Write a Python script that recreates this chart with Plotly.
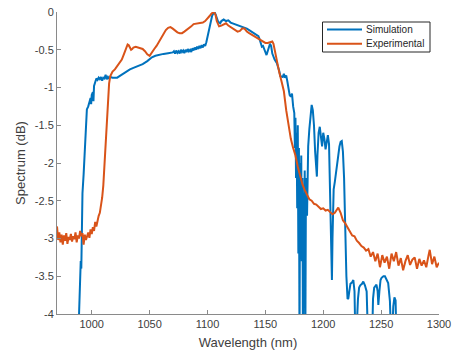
import plotly.graph_objects as go

# Simulated spectrum (wavelength in nm, level in dB)
sim_wl = [988, 989.5, 990, 990.5, 991, 991.5, 992, 993, 994, 995, 995.8, 997, 998, 999, 999.5,
          1000, 1001, 1001.5, 1002, 1003, 1004, 1005, 1006, 1007, 1008, 1009, 1010, 1011, 1012,
          1013, 1014, 1015, 1016, 1018, 1020, 1022, 1024, 1026, 1028, 1030, 1033, 1036, 1040,
          1044, 1048, 1050, 1052, 1055, 1058, 1062, 1066, 1070,
          1071, 1072, 1073, 1074, 1075, 1076, 1077, 1078, 1079, 1080, 1081, 1082, 1083, 1084,
          1085, 1086, 1087, 1088, 1089, 1090, 1091, 1092, 1093, 1094, 1095, 1096, 1097, 1098,
          1099, 1100, 1101, 1102, 1103, 1104, 1105, 1106, 1107, 1108, 1109, 1110, 1111, 1112,
          1114, 1116, 1118, 1120, 1122, 1124, 1126, 1128, 1130, 1132, 1134, 1136, 1138, 1140,
          1142, 1144, 1145, 1146, 1147, 1148, 1149, 1150, 1151, 1152, 1153, 1154, 1155, 1156,
          1158, 1160, 1162, 1163, 1165, 1166, 1167, 1168, 1169, 1170, 1171, 1172, 1173, 1174,
          1175, 1175.5, 1176, 1176.5, 1177, 1177.5, 1178, 1178.5, 1179, 1179.5, 1180, 1180.5,
          1181, 1181.5, 1182, 1182.5, 1183, 1183.5, 1184, 1184.5, 1185, 1185.5, 1186, 1186.5,
          1187, 1188, 1189, 1190, 1191, 1192, 1193, 1194, 1194.5, 1195, 1196, 1197, 1198, 1199,
          1200, 1201, 1202, 1203, 1204, 1205, 1206, 1207, 1207.5, 1208, 1209, 1210, 1211, 1212,
          1213, 1214, 1215, 1216, 1217, 1218, 1219, 1220, 1221, 1221.7, 1222.5, 1223.5, 1225,
          1226, 1227, 1228, 1230, 1231, 1232, 1233.5, 1234.6, 1236, 1237.5, 1239, 1242, 1243,
          1244, 1245, 1246, 1247, 1247.6, 1248.5, 1249.5, 1250.4, 1252, 1253.3, 1255, 1256.1,
          1257.6, 1259, 1260.5, 1261.5, 1262.5, 1263.5]
sim_db = [-4.5, -3.8, -3.5, -3.3, -3.4, -2.9, -2.4, -2.15, -1.8, -1.45, -1.29, -1.25, -1.18, -1.14, -1.22,
          -1.10, -1.06, -1.18, -0.98, -0.92, -0.88, -0.90, -0.87, -0.89, -0.86, -0.91, -0.87, -0.88, -0.83,
          -0.89, -0.86, -0.88, -0.86, -0.87, -0.875, -0.87, -0.85, -0.83, -0.80, -0.78, -0.76, -0.74, -0.72,
          -0.69, -0.65, -0.62, -0.60, -0.58, -0.566, -0.555, -0.545, -0.535,
          -0.52, -0.55, -0.51, -0.54, -0.52, -0.55, -0.50, -0.53, -0.51, -0.545, -0.50, -0.53, -0.49, -0.52,
          -0.50, -0.53, -0.48, -0.51, -0.47, -0.50, -0.46, -0.49, -0.45, -0.48, -0.44, -0.47, -0.43, -0.45,
          -0.40, -0.33, -0.25, -0.17, -0.10, -0.05, -0.02, 0.0, -0.03, -0.09, -0.12, -0.14, -0.15, -0.12,
          -0.10, -0.12, -0.11, -0.14, -0.15, -0.16, -0.18, -0.18, -0.20, -0.21, -0.22, -0.24, -0.26, -0.28,
          -0.30, -0.32, -0.36, -0.43, -0.46, -0.45, -0.50, -0.55, -0.57, -0.52, -0.47, -0.42, -0.45, -0.55,
          -0.63, -0.68, -0.78, -0.85, -0.86, -0.82, -0.87, -0.84, -0.92, -1.00, -1.10, -1.12, -1.08, -1.25,
          -1.34, -1.8, -1.4, -2.2, -1.6, -2.6, -1.5, -3.2, -1.8, -4.5, -2.0, -2.7,
          -1.9, -3.3, -2.2, -4.5, -2.4, -2.9, -2.1, -4.5, -2.5, -2.2, -2.7, -2.05,
          -1.78, -1.55, -1.35, -1.23, -1.30, -1.50, -1.85, -2.10, -2.18, -1.90, -1.60, -1.52, -1.65, -1.78,
          -1.60, -1.68, -1.82, -1.70, -1.63, -1.75, -2.4, -3.3, -3.55, -3.0, -2.35, -2.25, -2.15, -2.05,
          -1.90, -1.78, -1.72, -1.71, -1.85, -2.2, -2.9, -3.5, -3.8, -3.79, -3.7, -3.6, -3.58,
          -3.55, -3.7, -4.5, -3.8, -3.65, -3.62, -3.6, -3.57, -3.62, -3.70, -4.5, -4.5, -3.8,
          -3.65, -3.63, -3.61, -3.7, -3.88, -3.7, -3.55, -3.52, -3.5, -3.50, -3.55, -3.59,
          -3.83, -4.5, -3.9, -3.78, -3.82, -4.5]

# Measured spectrum
exp_wl = [970, 971, 972, 973, 974, 975, 976, 977, 978, 979, 980, 981, 982, 983, 984, 985, 986, 987,
          988, 989, 990, 991, 992, 993, 994, 995, 996, 997, 998, 999, 1000, 1001, 1002, 1003, 1004,
          1005, 1006, 1007, 1008, 1009, 1010, 1011, 1012, 1013, 1014, 1015, 1016, 1017, 1018, 1020,
          1022, 1024, 1026, 1028, 1030, 1031, 1032, 1033, 1034, 1035, 1036, 1038, 1040, 1042, 1044,
          1046, 1048, 1050, 1052, 1054, 1056, 1058, 1060, 1062, 1064, 1066, 1068, 1070, 1072, 1074,
          1076, 1078, 1080, 1082, 1084, 1086, 1088, 1090, 1092, 1094, 1096, 1098, 1100, 1102, 1103,
          1104, 1105, 1106, 1107, 1108, 1109, 1110, 1112, 1114, 1116, 1118, 1120, 1122, 1124, 1126,
          1128, 1130, 1132, 1134, 1136, 1138, 1140, 1142, 1144, 1146, 1148, 1150, 1152, 1154, 1156,
          1157, 1158, 1160, 1162, 1164, 1166, 1168, 1170, 1172, 1174, 1176, 1178, 1180, 1182, 1184,
          1186, 1188, 1190, 1192, 1194, 1196, 1198, 1200, 1202, 1204, 1206, 1208, 1210, 1212, 1213,
          1215, 1217, 1219, 1221, 1223, 1225, 1227, 1229, 1231, 1233, 1235, 1237, 1239, 1241, 1243,
          1245, 1247, 1249, 1251, 1253, 1255, 1257, 1259, 1261, 1263, 1265, 1267, 1269, 1271, 1273,
          1275, 1277, 1279, 1281, 1283, 1285, 1287, 1289, 1291, 1292, 1294, 1296, 1298, 1300]
exp_db = [-2.84, -3.02, -2.92, -3.05, -2.95, -3.08, -2.96, -3.03, -2.93, -3.07, -2.98, -3.02, -2.94,
          -3.04, -2.97, -3.01, -2.92, -3.05, -2.96, -3.00, -2.90, -2.97, -2.93, -3.08, -2.95, -3.02,
          -2.97, -2.92, -2.99, -2.88, -2.94, -2.85, -2.90, -2.78, -2.84, -2.74, -2.70, -2.66, -2.58,
          -2.46, -2.30, -2.05, -1.80, -1.45, -1.15, -0.95, -0.85, -0.82, -0.79, -0.76, -0.72, -0.68,
          -0.63, -0.55, -0.46, -0.43, -0.44, -0.47, -0.50, -0.49, -0.47, -0.46, -0.47, -0.47, -0.49,
          -0.52, -0.56, -0.58, -0.53, -0.49, -0.45, -0.40, -0.35, -0.30, -0.24, -0.21, -0.20, -0.22,
          -0.25, -0.27, -0.28, -0.28, -0.26, -0.24, -0.21, -0.19, -0.16, -0.155, -0.15, -0.15, -0.14,
          -0.12, -0.09, -0.05, -0.03, -0.01, 0.0, -0.01, -0.04, -0.12, -0.17, -0.19, -0.18, -0.16,
          -0.15, -0.18, -0.20, -0.22, -0.24, -0.26, -0.25, -0.22, -0.22, -0.26, -0.28, -0.30, -0.32,
          -0.33, -0.36, -0.38, -0.40, -0.41, -0.41, -0.40, -0.39, -0.42, -0.50, -0.66, -0.80, -0.92,
          -1.05, -1.30, -1.50, -1.68, -1.80, -1.90, -2.05, -2.18, -2.28, -2.36, -2.42, -2.48, -2.50,
          -2.54, -2.55, -2.58, -2.61, -2.60, -2.63, -2.62, -2.65, -2.68, -2.66, -2.61, -2.59, -2.66,
          -2.76, -2.80, -2.86, -2.90, -2.96, -2.97, -3.03, -3.06, -3.10, -3.12, -3.16, -3.14, -3.24,
          -3.18, -3.30, -3.20, -3.38, -3.22, -3.32, -3.24, -3.40, -3.20, -3.30, -3.18, -3.36, -3.26,
          -3.42, -3.30, -3.22, -3.35, -3.28, -3.25, -3.40, -3.27, -3.36, -3.29, -3.38, -3.22, -3.15,
          -3.34, -3.24, -3.38, -3.32]

series_names = ["Simulation", "Experimental"]
series_colors = ["#0072BD", "#D95319"]

x_ticks = [1000, 1050, 1100, 1150, 1200, 1250, 1300]
y_ticks = [0, -0.5, -1, -1.5, -2, -2.5, -3, -3.5, -4]
y_tick_text = ["0", "-0.5", "-1", "-1.5", "-2", "-2.5", "-3", "-3.5", "-4"]

W, H = 456, 357
M_L, M_R, M_T, M_B = 57, 17, 12, 43
axis_color = "#8a8a8a"
text_color = "#404040"
font_family = "Liberation Sans, Arial, sans-serif"

fig = go.Figure()
for name, color, xs, ys in zip(series_names, series_colors, [sim_wl, exp_wl], [sim_db, exp_db]):
    fig.add_trace(go.Scatter(x=xs, y=ys, mode="lines", name=name,
                             line=dict(color=color, width=2), showlegend=False))

# Compact boxed legend in the upper right, positioned in pixels
plot_w, plot_h = W - M_L - M_R, H - M_T - M_B


def px(xp):
    return (xp - M_L) / plot_w


def py(yp):
    return 1 - (yp - M_T) / plot_h


box = dict(x0=322.5, x1=430, y0=22, y1=52)
fig.add_shape(type="rect", xref="paper", yref="paper",
              x0=px(box["x0"]), x1=px(box["x1"]), y0=py(box["y1"]), y1=py(box["y0"]),
              line=dict(color="#262626", width=1), fillcolor="white", layer="above")
for i, (name, color) in enumerate(zip(series_names, series_colors)):
    row_y = 29.5 + 14.3 * i
    fig.add_shape(type="line", xref="paper", yref="paper",
                  x0=px(327), x1=px(362), y0=py(row_y), y1=py(row_y),
                  line=dict(color=color, width=2), layer="above")
    fig.add_annotation(xref="paper", yref="paper", x=px(364), y=py(row_y),
                       text=name, showarrow=False, xanchor="left", yanchor="middle",
                       font=dict(size=10, color="#262626", family=font_family))

fig.update_layout(
    width=W, height=H,
    margin=dict(l=M_L, r=M_R, t=M_T, b=M_B, autoexpand=False),
    paper_bgcolor="white", plot_bgcolor="white",
    font=dict(family=font_family, size=11, color=text_color),
    showlegend=False,
)
fig.update_xaxes(range=[970, 1300], tickvals=x_ticks, ticks="inside", ticklen=4,
                 tickcolor=axis_color, showline=True, linecolor=axis_color, linewidth=1,
                 showgrid=False, zeroline=False, mirror=False, automargin=False,
                 title=dict(text="Wavelength (nm)", standoff=8),
                 tickfont=dict(size=11, color=text_color))
fig.update_yaxes(range=[-4, 0], tickvals=y_ticks, ticktext=y_tick_text, ticks="inside",
                 ticklen=4, tickcolor=axis_color, showline=True, linecolor=axis_color,
                 linewidth=1, showgrid=False, zeroline=False, mirror=False, automargin=False,
                 title=dict(text="Spectrum (dB)", standoff=6),
                 tickfont=dict(size=11, color=text_color))

fig.write_html("out.html")
